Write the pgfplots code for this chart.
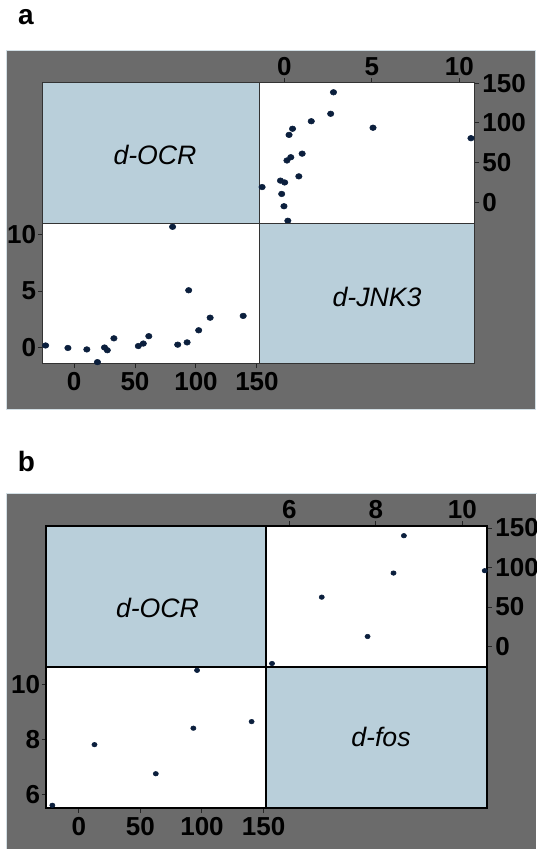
\documentclass[border=0pt]{standalone}
\usepackage{fontspec}
\setmainfont{Liberation Sans}
\usepackage{pgfplots}
\usepackage{pgfplotstable}
\pgfplotsset{compat=1.18}

\definecolor{bggray}{HTML}{6B6B6B}
\definecolor{cellblue}{HTML}{B9CFDA}
\definecolor{dotblue}{HTML}{0B1F3D}
\definecolor{rimblue}{HTML}{D3DFE5}

% panel a: d-OCR vs d-JNK3
\pgfplotstableread{
ocr jnk
-23.3 0.2
-5 -0.02
10.5 -0.15
19.2 -1.27
25 0.02
27.3 -0.22
32.7 0.83
52.7 0.15
56.8 0.37
61.3 1.02
80.8 10.67
85 0.27
92.7 0.47
94 5.07
102.2 1.54
111.6 2.65
138.7 2.81
}\dataA

% panel b: d-OCR vs d-fos
\pgfplotstableread{
ocr fos
-21.5 5.6
12.7 7.81
62.5 6.75
93 8.41
96 10.52
140.3 8.65
}\dataB

\pgfplotsset{
  cell/.style={
    scale only axis, anchor=south west,
    tick label style={font=\fontsize{19.5}{19.5}\selectfont\bfseries},
    /pgf/number format/assume math mode=true,
    tick align=outside, major tick length=3.4pt,
    tick style={black!85, line width=0.75pt},
    minor tick num=0,
  },
  lowleft/.style={cell, axis background/.style={fill=white},
    xtick pos=left, xticklabel pos=left,
    ytick pos=left, yticklabel pos=left,
    yticklabel style={inner sep=1pt}, xticklabel style={inner sep=3pt}},
  upright/.style={cell, axis background/.style={fill=white},
    xtick pos=right, xticklabel pos=right,
    ytick pos=right, yticklabel pos=right,
    xticklabel style={inner sep=1.5pt}, yticklabel style={inner sep=2.5pt}},
  diag/.style={cell, ticks=none, axis background/.style={fill=cellblue}},
  pts/.style={only marks, mark=*, color=dotblue, mark size=2.1pt, mark options={xscale=1.15}},
}

\begin{document}
\begin{tikzpicture}[x=0.75pt, y=0.75pt]
\path[use as bounding box, fill=white] (0,0) rectangle (536,849);

% ---------- panel a ----------
\fill[bggray] (6,440) rectangle (535,799);
\draw[rimblue, line width=0.6pt] (6,440) rectangle (535,799);
\node[font=\fontsize{21}{21}\selectfont\bfseries] at (26,831.5) {a};

\begin{axis}[diag, at={({42.3*0.75pt},{625.7*0.75pt})}, width=162.75pt, height=105.45pt,
  xmin=0, xmax=1, ymin=0, ymax=1,
  axis line style={draw=black!80, line width=0.9pt}]
\end{axis}
\begin{axis}[upright, at={({259.3*0.75pt},{625.7*0.75pt})}, width=161.25pt, height=105.45pt,
  xmin=-1.43, xmax=10.86, ymin=-26.5, ymax=150.8,
  xtick={0,5,10}, ytick={0,50,100,150},
  axis line style={draw=black!80, line width=0.9pt}]
  \addplot[pts] table[x=jnk, y=ocr] {\dataA};
\end{axis}
\begin{axis}[lowleft, at={({42.3*0.75pt},{485.5*0.75pt})}, width=162.75pt, height=105.15pt,
  xmin=-26, xmax=151.9, ymin=-1.39, ymax=10.98,
  xtick={0,50,100,150}, ytick={0,5,10},
  axis line style={draw=black!80, line width=0.9pt}]
  \addplot[pts] table[x=ocr, y=jnk] {\dataA};
\end{axis}
\begin{axis}[diag, at={({259.3*0.75pt},{485.5*0.75pt})}, width=161.25pt, height=105.15pt,
  xmin=0, xmax=1, ymin=0, ymax=1,
  axis line style={draw=black!80, line width=0.9pt}]
\end{axis}
\node[font=\fontsize{20}{20}\selectfont\itshape] at (155,694) {d-OCR};
\node[font=\fontsize{20}{20}\selectfont\itshape] at (377,552) {d-JNK3};

% ---------- panel b ----------
\fill[bggray] (6,0) rectangle (536,355.7);
\draw[rimblue, line width=0.6pt] (6,-2) -- (6,355.7) -- (538,355.7);
\node[font=\fontsize{21}{21}\selectfont\bfseries] at (26.5,388) {b};

\begin{axis}[diag, at={({46.2*0.75pt},{181.7*0.75pt})}, width=165.15pt, height=106.1pt,
  xmin=0, xmax=1, ymin=0, ymax=1,
  axis line style={draw=black, line width=1.4pt}]
\end{axis}
\begin{axis}[upright, at={({266.4*0.75pt},{181.7*0.75pt})}, width=165.7pt, height=106.1pt,
  xmin=5.47, xmax=10.58, ymin=-26.3, ymax=152.8,
  xtick={6,8,10}, ytick={0,50,100,150},
  axis line style={draw=black, line width=1.4pt}]
  \addplot[pts, mark size=1.7pt] table[x=fos, y=ocr] {\dataB};
\end{axis}
\begin{axis}[lowleft, at={({46.2*0.75pt},{40.7*0.75pt})}, width=165.15pt, height=105.75pt,
  xmin=-26.5, xmax=152.3, ymin=5.49, ymax=10.63,
  xtick={0,50,100,150}, ytick={6,8,10},
  axis line style={draw=black, line width=1.4pt}]
  \addplot[pts, mark size=1.7pt] table[x=ocr, y=fos] {\dataB};
\end{axis}
\begin{axis}[diag, at={({266.4*0.75pt},{40.7*0.75pt})}, width=165.7pt, height=105.75pt,
  xmin=0, xmax=1, ymin=0, ymax=1,
  axis line style={draw=black, line width=1.4pt}]
\end{axis}
\node[font=\fontsize{20}{20}\selectfont\itshape] at (157.5,241) {d-OCR};
\node[font=\fontsize{20}{20}\selectfont\itshape] at (381,112) {d-fos};
\end{tikzpicture}
\end{document}
